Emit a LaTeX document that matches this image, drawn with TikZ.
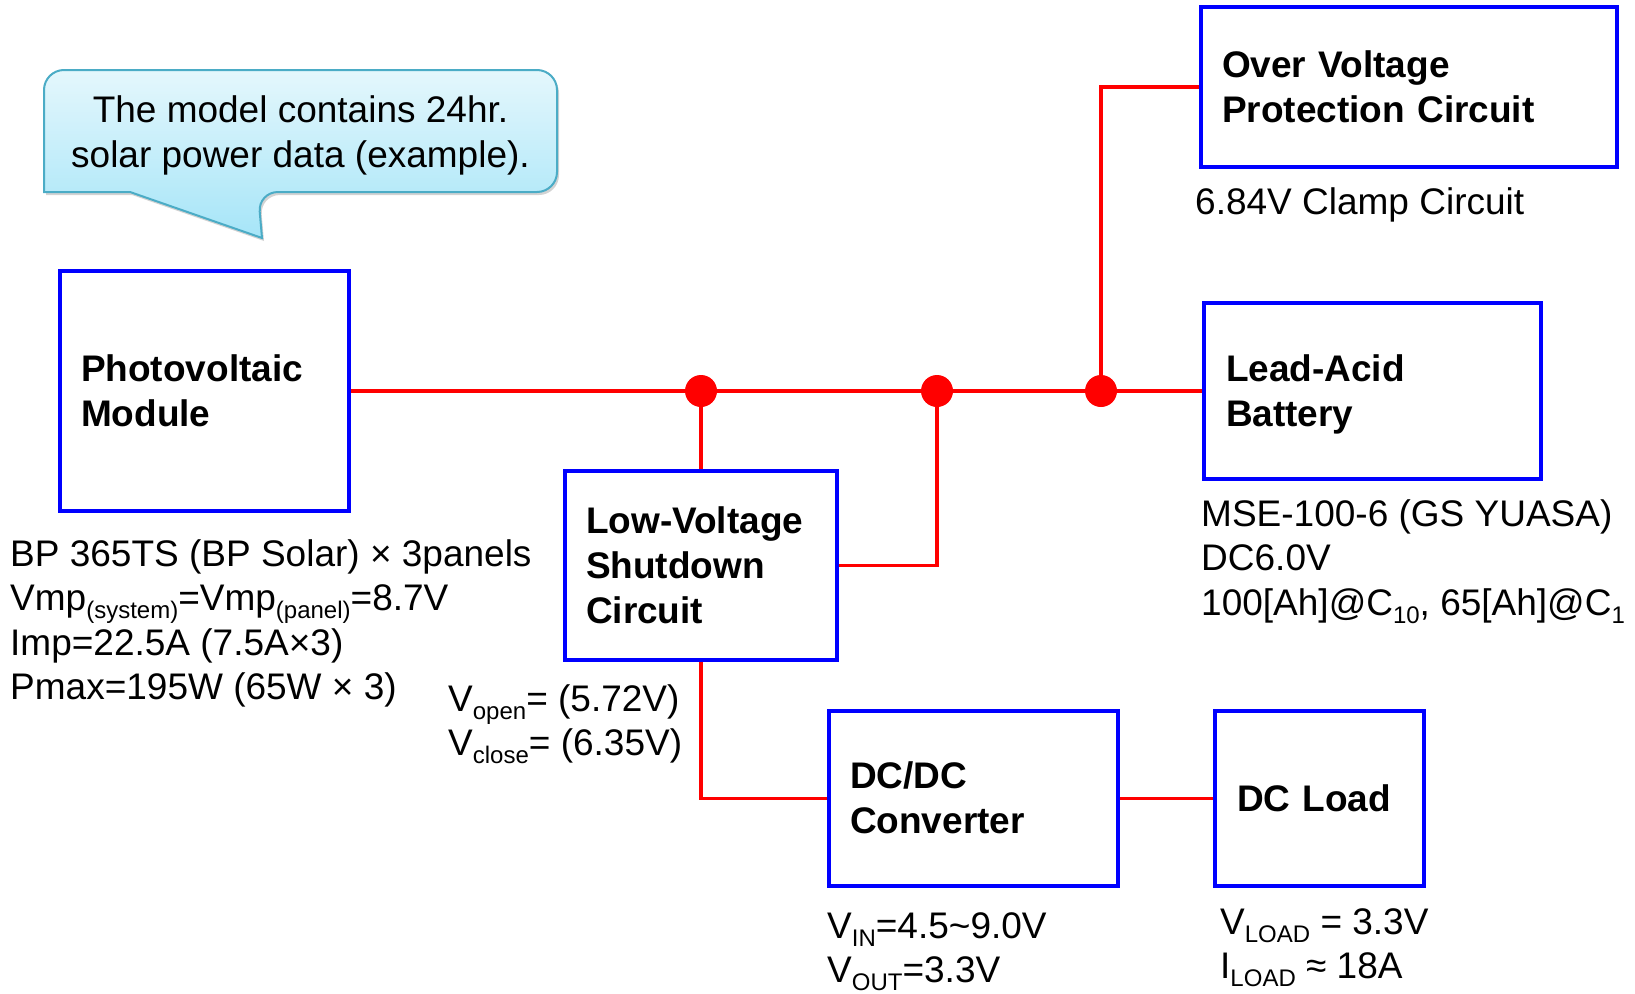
\documentclass[tikz,border=0pt]{standalone}
\usepackage{fontspec}
\setmainfont{Liberation Sans}
\usetikzlibrary{shadows}
\definecolor{wirered}{RGB}{255,0,0}
\definecolor{boxblue}{RGB}{0,0,255}
\definecolor{calloutedge}{RGB}{75,172,198}
\definecolor{callouttop}{RGB}{228,247,252}
\definecolor{calloutbot}{RGB}{166,229,248}
\newcommand{\sbx}[1]{\raisebox{-8pt}{\fontsize{24}{24}\selectfont #1}}
\newcommand{\bxs}{\rule[-8pt]{0pt}{41.5pt}}
\begin{document}
\begin{tikzpicture}[x=1pt,y=-1pt,
  blk/.style={draw=boxblue, line width=3.5pt, inner sep=0pt, align=left,
    font=\fontsize{37}{45}\selectfont\bfseries,
    execute at begin node=\bxs, execute at end node=\bxs},
  lbl/.style={inner sep=0pt, align=left, anchor=base west,
    font=\fontsize{37}{44.5}\selectfont},
  wire/.style={draw=wirered, line width=3.2pt},
  junction/.style={circle, fill=wirered, minimum size=32pt, inner sep=0pt},
  callout/.style={draw=calloutedge, line width=2pt, top color=callouttop,
    bottom color=calloutbot,
    drop shadow={shadow xshift=2pt, shadow yshift=-3pt, opacity=0.35}}]
\useasboundingbox (0,0) rectangle (1635,993);

% callout
\path[callout] (300,70) [rounded corners=20pt] -- (557,70) -- (557,192)
  -- (258,192) [sharp corners] -- (262,238) -- (130,192) -- (44,192)
  [rounded corners=20pt] -- (44,70) -- cycle;
\node[inner sep=0pt, align=center, anchor=base,
  font=\fontsize{37}{45}\selectfont] (ctext) at (300.5,167)
  {The model contains 24hr.\\solar power data (example).};

% blocks
\node[blk, minimum width=289pt, minimum height=240pt, text width=247pt]
  (pv) at (204.5,391) {Photovoltaic\\Module};
\node[blk, minimum width=272pt, minimum height=189pt, text width=230pt]
  (lvs) at (701,565.5) {Low-Voltage\\Shutdown\\Circuit};
\node[blk, minimum width=289pt, minimum height=175pt, text width=247pt]
  (dcdc) at (973.5,798.5) {DC/DC\\Converter};
\node[blk, minimum width=209pt, minimum height=175pt, text width=165pt]
  (load) at (1319.5,798.5) {DC Load};
\node[blk, minimum width=337pt, minimum height=176pt, text width=293pt]
  (bat) at (1372.5,391) {Lead-Acid\\Battery};
\node[blk, minimum width=416pt, minimum height=160pt, text width=374pt]
  (ovp) at (1409,87) {Over Voltage\\Protection Circuit};

% junctions
\coordinate (j1) at (701,391);
\coordinate (j2) at (937,391);
\coordinate (j3) at (1101,391);

% wires
\draw[wire] (pv.east) -- (bat.west);
\draw[wire] (j1) -- (j1 |- lvs.north);
\draw[wire] (lvs.east) -| (j2);
\draw[wire] (j3) |- (ovp.west);
\draw[wire] (lvs.south) |- (dcdc.west);
\draw[wire] (dcdc.east) -- (load.west);

\node[junction] (d1) at (j1) {};
\node[junction] (d2) at (j2) {};
\node[junction] (d3) at (j3) {};

% labels (base anchor = last line)
\node[lbl] (pvlbl) at (10,699.5) {BP 365TS (BP Solar) × 3panels\\
  Vmp\sbx{(system)}=Vmp\sbx{(panel)}=8.7V\\
  Imp=22.5A (7.5A×3)\\
  Pmax=195W (65W × 3)};
\node[lbl] (lvslbl) at (448,755.5) {V\sbx{open}= (5.72V)\\V\sbx{close}= (6.35V)};
\node[lbl] (dclbl) at (827,982.5) {V\sbx{IN}=4.5\textasciitilde 9.0V\\V\sbx{OUT}=3.3V};
\node[lbl] (loadlbl) at (1220,978.5) {V\sbx{LOAD} = 3.3V\\I\sbx{LOAD} ≈ 18A};
\node[lbl] (batlbl) at (1201,615) {MSE-100-6 (GS YUASA)\\DC6.0V\\
  100[Ah]@C\sbx{10}, 65[Ah]@C\sbx{1}};
\node[lbl] (ovplbl) at (1195,214) {6.84V Clamp Circuit};
\end{tikzpicture}
\end{document}
